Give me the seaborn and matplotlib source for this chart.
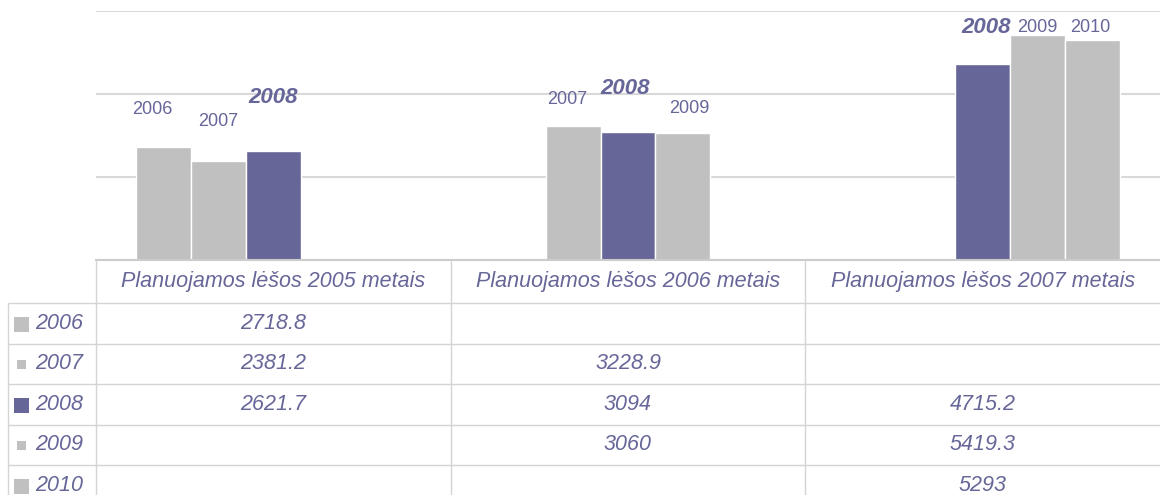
import numpy as np
import pandas as pd
import matplotlib
matplotlib.use("Agg")
import matplotlib.pyplot as plt
from matplotlib.patches import Rectangle
import seaborn as sns

# ---------------- data ----------------
categories = ["Planuojamos lėšos 2005 metais",
              "Planuojamos lėšos 2006 metais",
              "Planuojamos lėšos 2007 metais"]
years = ["2006", "2007", "2008", "2009", "2010"]
values_2006 = [2718.8, None, None]
values_2007 = [2381.2, 3228.9, None]
values_2008 = [2621.7, 3094, 4715.2]
values_2009 = [None, 3060, 5419.3]
values_2010 = [None, None, 5293]
y_ticks = [0, 2000, 4000, 6000]

series = dict(zip(years, [values_2006, values_2007, values_2008, values_2009, values_2010]))
rows = [(c, y, v) for y, vals in series.items() for c, v in zip(categories, vals) if v is not None]
df = pd.DataFrame(rows, columns=["category", "year", "value"])

# ---------------- style ----------------
PURPLE = "#666699"
GRAY = "#c0c0c0"
LINE = "#d4d4d4"
palette = {"2006": GRAY, "2007": GRAY, "2008": PURPLE, "2009": GRAY, "2010": GRAY}
legend_square = {"2006": 15, "2007": 9, "2008": 15, "2009": 9, "2010": 15}
# label offsets (pixels) relative to bar top centre: (dx, dy)
label_offsets = {
    (0, "2006"): (-11, 38), (0, "2007"): (0, 40), (0, "2008"): (0, 54),
    (1, "2007"): (-6, 27), (1, "2008"): (-3, 43), (1, "2009"): (6, 25),
    (2, "2008"): (3, 37), (2, "2009"): (0, 8), (2, "2010"): (-2, 13),
}

sns.set_theme(style="white")
plt.rcParams["font.family"] = ["Liberation Sans", "DejaVu Sans"]

W, H = 1160, 495
fig = plt.figure(figsize=(W / 100, H / 100), dpi=100)
ax = fig.add_axes([96 / W, (H - 260) / H, (W - 96) / W, 249 / H])

sns.barplot(data=df, x="category", y="value", hue="year", order=categories,
            hue_order=years, palette=palette, saturation=1, width=0.775,
            edgecolor="white", linewidth=1, errorbar=None, legend=False, ax=ax)

ax.set_ylim(0, 6000)
ax.set_xlim(-0.5, 2.5)
ax.set_yticks(y_ticks)
ax.set_yticklabels([])
ax.set_xticks([])
ax.set_xlabel("")
ax.set_ylabel("")
ax.tick_params(length=0)
ax.yaxis.grid(True, color="#d9d9d9", lw=1.5)
ax.set_axisbelow(True)
for s in ["left", "right", "top"]:
    ax.spines[s].set_visible(False)
ax.spines["bottom"].set_color("#cccccc")
ax.spines["bottom"].set_linewidth(1.5)

# bar labels
for p in ax.patches:
    h = p.get_height()
    if not np.isfinite(h) or h <= 0:
        continue
    cx = p.get_x() + p.get_width() / 2
    cat = int(round(cx))
    slot = int(round((cx - cat) / p.get_width() + (len(years) - 1) / 2))
    yr = years[slot]
    dx, dy = label_offsets.get((cat, yr), (0, 20))
    bold = yr == "2008"
    ax.annotate(yr, xy=(cx, h), xytext=(dx, dy), textcoords="offset pixels",
                ha="center", va="center", color=PURPLE,
                fontsize=16 if bold else 13,
                fontweight="bold" if bold else "normal",
                fontstyle="italic" if bold else "normal",
                annotation_clip=False)

# ---------------- data table ----------------
tax = fig.add_axes([0, 0, 1, 1])
tax.set_xlim(0, W)
tax.set_ylim(H, 0)
tax.axis("off")

col_w = (W - 96) / 3
col_edges = [96 + k * col_w for k in range(4)]
header_top, header_bottom = 260, 303
row_h = 40.5
row_tops = [header_bottom + i * row_h for i in range(len(years))]

tax.hlines(row_tops, 8, W, color=LINE, lw=1)
tax.vlines(8, header_bottom, H, color=LINE, lw=1)
tax.vlines(col_edges[:3], header_top, H, color=LINE, lw=1)

fs = 15.5
for k, cat in enumerate(categories):
    cx = (col_edges[k] + col_edges[k + 1]) / 2
    tax.text(cx, (header_top + header_bottom) / 2, cat, ha="center", va="center",
             fontsize=fs, fontstyle="italic", color=PURPLE)

for i, yr in enumerate(years):
    cy = row_tops[i] + row_h / 2
    sz = legend_square[yr]
    tax.add_patch(Rectangle((21.5 - sz / 2, cy - sz / 2 + 1), sz, sz,
                            facecolor=palette[yr], edgecolor="none"))
    tax.text(35, cy, yr, ha="left", va="center", fontsize=fs,
             fontstyle="italic", color=PURPLE)
    for k, v in enumerate(series[yr]):
        if v is None:
            continue
        cx = (col_edges[k] + col_edges[k + 1]) / 2
        tax.text(cx, cy, f"{v:g}", ha="center", va="center", fontsize=fs,
                 fontstyle="italic", color=PURPLE)

fig.savefig("out.png", dpi=100)
